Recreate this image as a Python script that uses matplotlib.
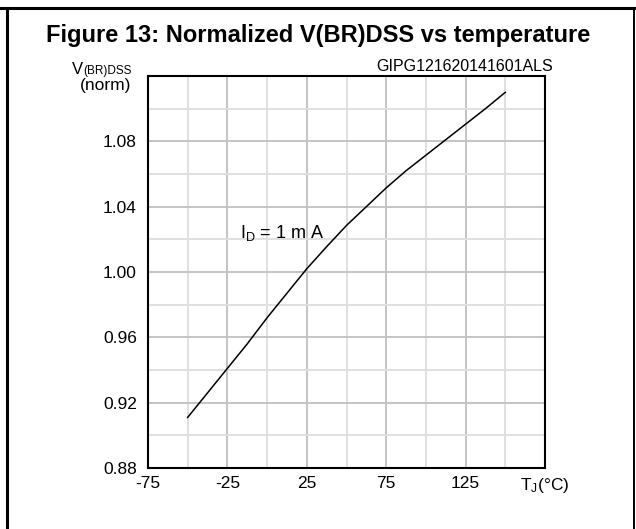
"""Figure 13: Normalized V(BR)DSS vs temperature (datasheet style chart)."""
import matplotlib
matplotlib.use("Agg")
import matplotlib.pyplot as plt
from matplotlib.lines import Line2D

plt.rcParams["font.family"] = ["Liberation Sans", "DejaVu Sans"]
plt.rcParams["mathtext.default"] = "regular"

# data (I_D = 1 mA)
temp_c = [-50, -37.5, -25, -12.5, 0, 12.5, 25, 37.5, 50, 62.5,
          75, 87.5, 100, 112.5, 125, 137.5, 150]
v_norm = [0.911, 0.926, 0.941, 0.956, 0.972, 0.987, 1.002, 1.0155, 1.0285, 1.040,
          1.0515, 1.062, 1.0715, 1.081, 1.0905, 1.100, 1.110]

x_major = [-75, -25, 25, 75, 125, 175]
x_labels = ["-75", "-25", "25", "75", "125", "T$_{J}$(°C)"]
x_minor = [-50, 0, 50, 100, 150]
y_major = [0.88, 0.92, 0.96, 1.00, 1.04, 1.08, 1.12]
y_labels = ["0.88", "0.92", "0.96", "1.00", "1.04", "1.08", ""]
y_minor = [0.90, 0.94, 0.98, 1.02, 1.06, 1.10]

W, H = 636, 529
fig = plt.figure(figsize=(W / 100, H / 100), dpi=100, facecolor="white")
ax = fig.add_axes([148 / W, (H - 468) / H, 397 / W, 392 / H])

ax.plot(temp_c, v_norm, color="black", linewidth=1.1)
ax.set_xlim(-75, 175)
ax.set_ylim(0.88, 1.12)

ax.set_xticks(x_major)
ax.set_xticklabels(x_labels)
ax.set_xticks(x_minor, minor=True)
ax.set_yticks(y_major)
ax.set_yticklabels(y_labels)
ax.set_yticks(y_minor, minor=True)
ax.tick_params(which="both", length=0, labelsize=12.5)
ax.tick_params(axis="x", pad=6)
ax.tick_params(axis="y", pad=8)

ax.grid(which="major", color="#c4c4c4", linewidth=1.4)
ax.grid(which="minor", color="#e0e0e0", linewidth=1.4)
ax.set_axisbelow(True)
for spine in ax.spines.values():
    spine.set_color("black")
    spine.set_linewidth(1.5)


def fig_text(x, y, s, **kw):
    # x, y in pixels from the top-left corner, y is the text baseline
    fig.text(x / W, (H - y) / H, s, va="baseline", **kw)


fig_text(240, 238, "I$_{D}$ = 1 m A", ha="left", fontsize=13)
fig_text(318, 42, "Figure 13: Normalized V(BR)DSS vs temperature",
         ha="center", fontsize=17, fontweight="bold")
fig_text(553, 71, "GIPG121620141601ALS", ha="right", fontsize=11.5)
fig_text(72, 74, "V", ha="left", fontsize=12)
fig_text(83, 74, "(BR)DSS", ha="left", fontsize=8.5)
fig_text(131, 90, "(norm)", ha="right", fontsize=12.5)

# frame around the figure (top, left, right)
for xs, ys, lw in [((0, W), (8, 8), 2.2), ((7, 7), (8, H), 2.2),
                   ((633.5, 633.5), (8, H), 1.4)]:
    fig.add_artist(Line2D([x / W for x in xs], [(H - y) / H for y in ys],
                          color="black", linewidth=lw, transform=fig.transFigure))

fig.savefig("out.png", dpi=100, facecolor="white")
